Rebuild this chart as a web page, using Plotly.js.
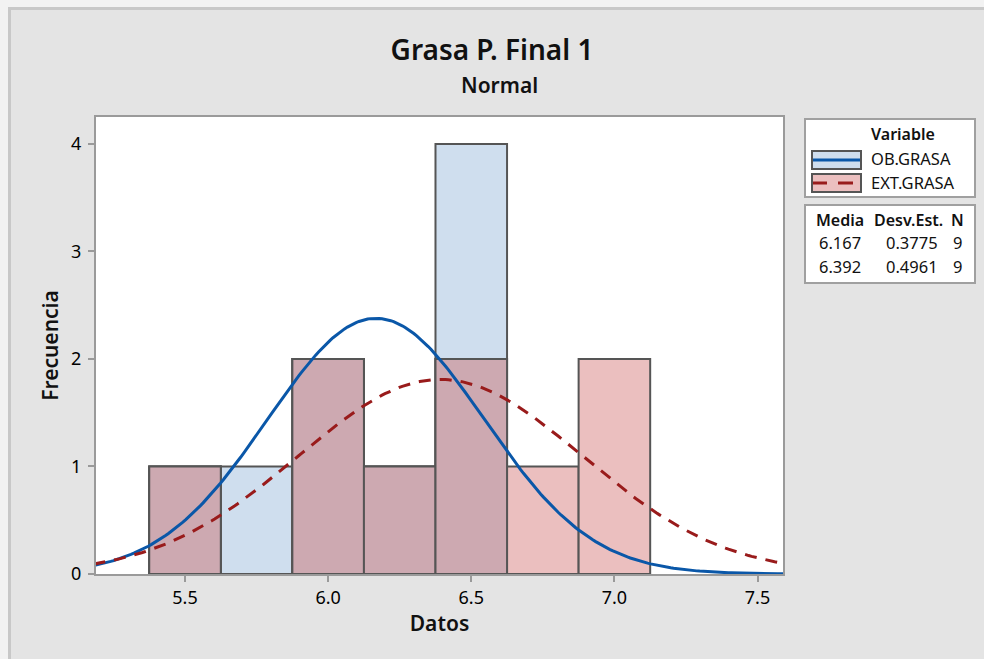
<!DOCTYPE html>
<html>
<head>
<meta charset="utf-8">
<script src="https://cdn.plot.ly/plotly-3.0.1.min.js"></script>
<style>html,body{margin:0;padding:0;background:#e4e4e4;}#chart{width:984px;height:659px;}</style>
</head>
<body>
<div id="chart"></div>
<script>
// ---- Data ----
var binCenters = [5.5, 5.75, 6.0, 6.25, 6.5, 6.75, 7.0];
var obGrasaCounts = [1, 1, 2, 1, 4, 0, 0];
var extGrasaCounts = [1, 0, 2, 1, 2, 1, 2];
var seriesNames = ["OB.GRASA", "EXT.GRASA"];
var means = [6.167, 6.392];
var stdDevs = [0.3775, 0.4961];
var nObs = [9, 9];
var binWidth = 0.25;
var xTicks = [5.5, 6.0, 6.5, 7.0, 7.5];
var xTickLabels = ["5.5", "6.0", "6.5", "7.0", "7.5"];
var yTicks = [0, 1, 2, 3, 4];

// ---- Layout helpers ----
var W = 984, H = 659;
var L = 96, R = 783, T = 117, B = 574;
function px(x){ return (x - L) / (R - L); }
function py(y){ return (B - y) / (B - T); }

var FONT = "Noto Sans, Open Sans, sans-serif";
var blueFill = "#cfdeee", redFill = "#ebbfbf", overlapFill = "#cda9b1";
var edge = "#555555";
var blueLine = "#0a57a8", redLine = "#991b1b";

var overlap = obGrasaCounts.map(function(v, i){ return Math.min(v, extGrasaCounts[i]); });

function barTrace(y, fill){
  return {type: "bar", x: binCenters, y: y, width: binWidth,
    marker: {color: fill, line: {color: edge, width: 2}},
    showlegend: false, hoverinfo: "x+y"};
}

// fitted normal curve from the displayed parameters (Media, Desv.Est., N)
function normalCurve(mu, sd, n){
  var xs = [], ys = [];
  var x0 = 5.18, x1 = 7.6, steps = 240;
  for (var k = 0; k <= steps; k++){
    var x = x0 + (x1 - x0) * k / steps;
    var z = (x - mu) / sd;
    xs.push(x);
    ys.push(n * binWidth * Math.exp(-0.5 * z * z) / (sd * Math.sqrt(2 * Math.PI)));
  }
  return {x: xs, y: ys};
}
var cb = normalCurve(means[0], stdDevs[0], nObs[0]);
var cr = normalCurve(means[1], stdDevs[1], nObs[1]);

var traces = [
  barTrace(obGrasaCounts, blueFill),
  barTrace(extGrasaCounts, redFill),
  barTrace(overlap, overlapFill),
  {type: "scatter", mode: "lines", x: cb.x, y: cb.y, line: {color: blueLine, width: 3}, showlegend: false, name: seriesNames[0]},
  {type: "scatter", mode: "lines", x: cr.x, y: cr.y, line: {color: redLine, width: 3, dash: "12px,9px"}, showlegend: false, name: seriesNames[1]}
];

var shapes = [
  // outer frame strips
  {type: "rect", xref: "paper", yref: "paper", x0: px(0), x1: px(W), y0: py(0), y1: py(7), fillcolor: "#f2f2f2", line: {width: 0}, layer: "below"},
  {type: "rect", xref: "paper", yref: "paper", x0: px(0), x1: px(8), y0: py(0), y1: py(H), fillcolor: "#f2f2f2", line: {width: 0}, layer: "below"},
  {type: "rect", xref: "paper", yref: "paper", x0: px(8), x1: px(W), y0: py(7), y1: py(10), fillcolor: "#c8c8c8", line: {width: 0}, layer: "below"},
  {type: "rect", xref: "paper", yref: "paper", x0: px(8), x1: px(11), y0: py(7), y1: py(H), fillcolor: "#c8c8c8", line: {width: 0}, layer: "below"},
  // legend box 1
  {type: "rect", xref: "paper", yref: "paper", x0: px(805), x1: px(975), y0: py(119), y1: py(197), fillcolor: "#ffffff", line: {color: "#a0a0a0", width: 2}},
  // swatch 1
  {type: "rect", xref: "paper", yref: "paper", x0: px(812), x1: px(861), y0: py(151), y1: py(169), fillcolor: blueFill, line: {color: edge, width: 2}},
  {type: "line", xref: "paper", yref: "paper", x0: px(813), x1: px(860), y0: py(160), y1: py(160), line: {color: blueLine, width: 3}},
  // swatch 2
  {type: "rect", xref: "paper", yref: "paper", x0: px(812), x1: px(861), y0: py(174), y1: py(192), fillcolor: redFill, line: {color: edge, width: 2}},
  {type: "line", xref: "paper", yref: "paper", x0: px(813), x1: px(827), y0: py(183), y1: py(183), line: {color: redLine, width: 3}},
  {type: "line", xref: "paper", yref: "paper", x0: px(838), x1: px(853), y0: py(183), y1: py(183), line: {color: redLine, width: 3}},
  // legend box 2
  {type: "rect", xref: "paper", yref: "paper", x0: px(805), x1: px(975), y0: py(205), y1: py(283), fillcolor: "#ffffff", line: {color: "#a0a0a0", width: 2}}
];

var LF = 16.5;
function ann(text, x, y, opts){
  var a = {text: text, xref: "paper", yref: "paper", x: px(x), y: py(y), showarrow: false,
    xanchor: "center", yanchor: "middle", font: {family: FONT, size: LF, color: "#111111"}};
  for (var k in opts){ a[k] = opts[k]; }
  return a;
}
var semi = {family: FONT, size: 16, color: "#111111", weight: 600};
var annotations = [
  ann("Variable", 903, 134, {font: semi}),
  ann(seriesNames[0], 869, 158, {xanchor: "left"}),
  ann(seriesNames[1], 869, 182, {xanchor: "left"}),
  ann("Media", 840, 220, {font: semi}),
  ann("Desv.Est.", 908, 220, {font: semi}),
  ann("N", 957, 220, {font: semi}),
  ann(means[0].toFixed(3), 863, 243, {xanchor: "right"}),
  ann(stdDevs[0].toFixed(4), 940, 243, {xanchor: "right"}),
  ann(String(nObs[0]), 964, 243, {xanchor: "right"}),
  ann(means[1].toFixed(3), 863, 266, {xanchor: "right"}),
  ann(stdDevs[1].toFixed(4), 940, 266, {xanchor: "right"}),
  ann(String(nObs[1]), 964, 266, {xanchor: "right"}),
  ann("Normal", 499, 85, {font: {family: FONT, size: 21, color: "#111111", weight: 600}})
];

var layout = {
  width: W, height: H,
  paper_bgcolor: "#e4e4e4", plot_bgcolor: "#ffffff",
  margin: {l: L, r: W - R, t: T, b: H - B, pad: 0},
  barmode: "overlay", bargap: 0,
  title: {text: "Grasa P. Final 1", x: 0.5, xanchor: "center", y: 1 - 50 / H, yanchor: "middle",
    font: {family: FONT, size: 28, color: "#111111", weight: 600}},
  xaxis: {range: [5.189, 7.589], tickvals: xTicks, ticktext: xTickLabels, ticks: "outside",
    ticklen: 6, tickwidth: 2, tickcolor: "#9a9a9a", showline: true, linecolor: "#9a9a9a", linewidth: 2,
    mirror: true, showgrid: false, zeroline: false,
    tickfont: {family: FONT, size: 18, color: "#000000"},
    title: {text: "Datos", font: {family: FONT, size: 21, color: "#111111", weight: 600}, standoff: 8}},
  yaxis: {range: [0, 4.25], tickvals: yTicks, ticks: "outside",
    ticklen: 6, tickwidth: 2, tickcolor: "#9a9a9a", showline: true, linecolor: "#9a9a9a", linewidth: 2,
    mirror: true, showgrid: false, zeroline: false, ticklabelstandoff: 3,
    tickfont: {family: FONT, size: 18, color: "#000000"},
    title: {text: "Frecuencia", font: {family: FONT, size: 21, color: "#111111", weight: 600}, standoff: 7}},
  shapes: shapes,
  annotations: annotations,
  showlegend: false
};

Plotly.newPlot("chart", traces, layout, {displayModeBar: false, staticPlot: true});
</script>
</body>
</html>
